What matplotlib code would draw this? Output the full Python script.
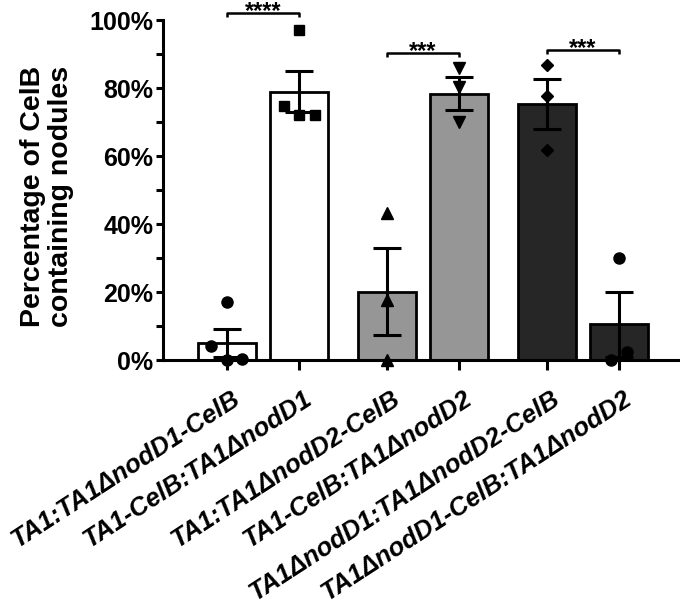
import matplotlib
matplotlib.use("Agg")
import matplotlib.pyplot as plt
import matplotlib.transforms as mtransforms
from matplotlib.ticker import FixedLocator, FuncFormatter
import numpy as np

plt.rcParams['font.family'] = ['Liberation Sans', 'DejaVu Sans']

# ---------------- data ----------------
categories = ["TA1:TA1\u0394nodD1-CelB",
              "TA1-CelB:TA1\u0394nodD1",
              "TA1:TA1\u0394nodD2-CelB",
              "TA1-CelB:TA1\u0394nodD2",
              "TA1\u0394nodD1:TA1\u0394nodD2-CelB",
              "TA1\u0394nodD1-CelB:TA1\u0394nodD2"]
means = [5.0, 78.9, 20.1, 78.3, 75.3, 10.5]
sems = [4.1, 6.1, 12.7, 4.8, 7.3, 9.6]

points_1 = [17.0, 4.0, 0.0, 0.3]
points_2 = [97.0, 74.7, 72.0, 72.0]
points_3 = [43.1, 17.6, 0.0]
points_4 = [85.8, 80.2, 69.9]
points_5 = [86.8, 77.7, 61.8]
points_6 = [29.9, 2.3, 0.0]
points = [points_1, points_2, points_3, points_4, points_5, points_6]

sig_pairs = [(0, 1), (2, 3), (4, 5)]
sig_labels = ["****", "***", "***"]
yticks = [0, 20, 40, 60, 80, 100]

# ---------------- styling / layout ----------------
group_gap = 0.22
xpos = [i + group_gap * (i // 2) for i in range(len(categories))]
jitter = [[0.0, -0.22, 0.0, 0.21],
          [0.0, -0.21, 0.0, 0.22],
          [0.0, 0.0, 0.0],
          [0.0, 0.0, 0.0],
          [0.0, 0.0, 0.0],
          [0.0, 0.12, -0.11]]
bar_colors = ['white', 'white', '#969696', '#969696', '#262626', '#262626']
markers = ['o', 's', '^', 'v', 'D', 'o']
msizes = [8, 7.5, 8, 8, 6.5, 8]

fig = plt.figure(figsize=(6.8, 6.06), dpi=100)
ax = fig.add_axes([163 / 680, 246 / 606, 517 / 680, 340 / 606])

ax.bar(xpos, means, width=0.8, color=bar_colors, edgecolor='black',
       linewidth=2.0, zorder=2)
ax.errorbar(xpos, means, yerr=sems, fmt='none', ecolor='black',
            elinewidth=2.2, capsize=10, capthick=2.2, zorder=3)

for i, pts in enumerate(points):
    xs = [xpos[i] + j for j in jitter[i]]
    ax.plot(xs, pts, linestyle='none', marker=markers[i], ms=msizes[i],
            color='black', zorder=4, clip_on=False)

# significance brackets
for (a, b), lab in zip(sig_pairs, sig_labels):
    top = max(means[a] + sems[a], means[b] + sems[b], max(points[a]), max(points[b]))
    ybar = top + 5.0 if a == 0 else top + 4.4
    ax.plot([xpos[a], xpos[a], xpos[b], xpos[b]], [ybar - 1.1, ybar, ybar, ybar - 1.1],
            color='black', lw=1.8, clip_on=False, zorder=5, solid_capstyle='butt')
    ax.text((xpos[a] + xpos[b]) / 2, ybar - 1.4, lab, ha='center', va='baseline',
            fontsize=17, fontweight='bold', clip_on=False)

ax.set_ylim(0, 100)
ax.set_xlim(-0.889, 6.29)

for s in ['top', 'right']:
    ax.spines[s].set_visible(False)
ax.spines['left'].set_linewidth(2.2)
ax.spines['bottom'].set_linewidth(2.2)
ax.spines['left'].set_bounds(0, 100)

ax.yaxis.set_major_locator(FixedLocator(yticks))
ax.yaxis.set_minor_locator(FixedLocator([10, 30, 50, 70, 90]))
ax.yaxis.set_major_formatter(FuncFormatter(lambda v, p: f"{int(round(v))}%"))
ax.tick_params(axis='y', which='major', length=5, width=2.2, pad=2,
               labelsize=18)
ax.tick_params(axis='y', which='minor', length=5, width=2.2)
for lbl in ax.get_yticklabels():
    lbl.set_fontweight('bold')

ax.set_xticks(xpos)
ax.set_xticklabels(categories, rotation=33, ha='right', va='top',
                   rotation_mode='anchor', fontsize=18.5, fontweight='bold',
                   fontstyle='italic')
ax.tick_params(axis='x', length=7, width=2.2, pad=12)
offset = mtransforms.ScaledTranslation(0.04, 0, fig.dpi_scale_trans)
for lbl in ax.get_xticklabels():
    lbl.set_transform(lbl.get_transform() + offset)

ax.text(-0.224, 0.48, "Percentage of CelB\ncontaining nodules", transform=ax.transAxes,
        rotation=90, ha='center', va='center', fontsize=20.5, fontweight='bold',
        linespacing=1.1)

fig.savefig("out.png", dpi=100)
